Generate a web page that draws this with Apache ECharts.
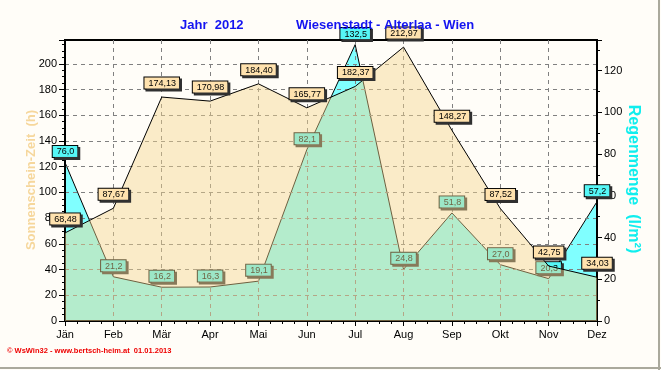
<!DOCTYPE html>
<html><head><meta charset="utf-8">
<script src="https://cdn.jsdelivr.net/npm/echarts@6/dist/echarts.min.js"></script>
<style>html,body{margin:0;padding:0;background:#fffdf8;}#c{width:661px;height:370px;}</style>
</head><body><div id="c"></div>
<script>
// ---- data ----
const months = ["Jän","Feb","Mär","Apr","Mai","Jun","Jul","Aug","Sep","Okt","Nov","Dez"];
const sunHours = [68.48, 87.67, 174.13, 170.98, 184.40, 165.77, 182.37, 212.97, 148.27, 87.52, 42.75, 34.03];
const rainMm = [76.0, 21.2, 16.2, 16.3, 19.1, 82.1, 132.5, 24.8, 51.8, 27.0, 20.3, 57.2];
const leftAxisMax = 218.5;
const rightAxisMax = 134.7;
const axisStep = 20;
const titleYear = "Jahr  2012";
const titleSite = "Wiesenstadt - Alterlaa - Wien";
const leftName = "Sonnenschein-Zeit  (h)";
const rightName = "Regenmenge  (l/m²)";
const footer = "© WsWin32 - www.bertsch-heim.at  01.01.2013";

const sunPts = sunHours.map((v, i) => [i, v]);
const rainPts = rainMm.map((v, i) => [i, v]);
const fmt = d => p => p.value[1].toFixed(d).replace('.', ',');

const chart = echarts.init(document.getElementById('c'), null, {renderer: 'canvas'});
const FONT = "'Liberation Sans', Arial, sans-serif";
const NARROW = "'Liberation Sans Narrow', 'Arial Narrow', 'Liberation Sans', sans-serif";

const labelBase = {
  show: true, position: 'top', fontFamily: NARROW, fontSize: 9, color: '#000', opacity: 1,
  borderColor: '#000', borderWidth: 1, padding: [1, 3, 0, 4], lineHeight: 10,
  shadowColor: '#303030', shadowOffsetX: 2, shadowOffsetY: 2, shadowBlur: 0
};

const AXZ = 1.2;
const option = {
  animation: false,
  backgroundColor: '#fffdf8',
  grid: {left: 65, right: 64, top: 40, bottom: 49, show: true, borderColor: '#000', borderWidth: 2, backgroundColor: '#fffdf8'},
  xAxis: [
    {type: 'value', min: 0, max: months.length - 1, interval: 1, z: AXZ, position: 'bottom',
     axisLine: {show: true, onZero: false, lineStyle: {color: '#000', width: 2}},
     axisTick: {show: true, length: 5, lineStyle: {color: '#000'}},
     minorTick: {show: true, splitNumber: 4, length: 3, lineStyle: {color: '#000'}},
     axisLabel: {formatter: v => months[v] || '', margin: 8, fontFamily: FONT, fontSize: 11, color: '#000', showMinLabel: true, showMaxLabel: true},
     splitLine: {show: false}},
    {type: 'value', min: 0, max: months.length - 1, interval: 1, z: 1.1, position: 'top',
     axisLine: {show: false}, axisTick: {show: false}, axisLabel: {show: false},
     splitLine: {show: true, showMinLine: false, showMaxLine: false, lineStyle: {color: '#808080', width: 1, type: [4, 4]}}}
  ],
  yAxis: [
    {type: 'value', min: 0, max: leftAxisMax, interval: axisStep, position: 'left', z: AXZ,
     axisLine: {show: true, onZero: false, lineStyle: {color: '#000', width: 2}},
     axisTick: {show: true, length: 6, lineStyle: {color: '#000'}},
     minorTick: {show: true, splitNumber: 4, length: 3, lineStyle: {color: '#000'}},
     axisLabel: {showMaxLabel: false, margin: 8, fontFamily: FONT, fontSize: 11, color: '#000'},
     splitLine: {show: false}},
    {type: 'value', min: 0, max: rightAxisMax, interval: axisStep, position: 'right', z: AXZ,
     axisLine: {show: true, onZero: false, lineStyle: {color: '#000', width: 2}},
     axisTick: {show: true, length: 5, lineStyle: {color: '#000'}},
     minorTick: {show: true, splitNumber: 2, length: 3, lineStyle: {color: '#000'}},
     axisLabel: {showMaxLabel: false, margin: 7, fontFamily: FONT, fontSize: 11, color: '#000'},
     splitLine: {show: false}},
    {type: 'value', min: 0, max: leftAxisMax, interval: axisStep, position: 'left', z: 1.1,
     axisLine: {show: false}, axisTick: {show: false}, axisLabel: {show: false},
     splitLine: {show: true, showMinLine: false, showMaxLine: false, lineStyle: {color: '#808080', width: 1, type: [4, 4]}}}
  ],
  series: [
    {name: 'Regen', type: 'line', xAxisIndex: 0, yAxisIndex: 1, data: rainPts, z: 1,
     symbol: 'none', silent: true,
     lineStyle: {color: '#000', width: 1},
     areaStyle: {color: '#80ffff', opacity: 1}},
    {name: 'RegenLabel', type: 'scatter', xAxisIndex: 0, yAxisIndex: 1, data: rainPts, z: 1.5,
     symbolSize: 1, silent: true, itemStyle: {color: '#000', opacity: 0},
     label: Object.assign({}, labelBase, {distance: 5, formatter: fmt(1), backgroundColor: '#55f6f6'})},
    {name: 'Sonne', type: 'line', xAxisIndex: 0, yAxisIndex: 0, data: sunPts, z: 3,
     symbol: 'none', silent: true,
     lineStyle: {color: '#000', width: 1},
     areaStyle: {color: 'rgba(244,212,141,0.45)', opacity: 1}},
    {name: 'SonneLabel', type: 'scatter', xAxisIndex: 0, yAxisIndex: 0, data: sunPts, z: 4,
     symbolSize: 1, silent: true, itemStyle: {color: '#000', opacity: 0},
     label: Object.assign({}, labelBase, {distance: 8, formatter: fmt(2), backgroundColor: '#ffe2ae'})}
  ],
  graphic: [
    {type: 'text', x: 180, y: 25, z: 10, style: {text: titleYear, font: 'bold 13px ' + FONT, fill: '#1414f0', verticalAlign: 'middle'}},
    {type: 'text', x: 296, y: 25, z: 10, style: {text: titleSite, font: 'bold 13px ' + FONT, fill: '#1414f0', verticalAlign: 'middle'}},
    {type: 'text', x: 31, y: 180, rotation: Math.PI / 2, z: 10, style: {text: leftName, font: 'bold 13px ' + FONT, fill: '#f6d79c', align: 'center', verticalAlign: 'middle'}},
    {type: 'text', x: 633, y: 179, rotation: -Math.PI / 2, z: 10, style: {text: rightName, font: 'bold 16px ' + FONT, fill: '#10eeee', align: 'center', verticalAlign: 'middle'}},
    {type: 'text', x: 7, y: 351, z: 10, style: {text: footer, font: 'bold 7.5px ' + FONT, fill: '#ee0000', verticalAlign: 'middle'}},
    {type: 'line', z: 10, shape: {x1: 0, y1: 368, x2: 661, y2: 368}, style: {stroke: '#aaa99c', lineWidth: 2}},
    {type: 'line', z: 10, shape: {x1: 659, y1: 0, x2: 659, y2: 370}, style: {stroke: '#aaa99c', lineWidth: 2}}
  ]
};
chart.setOption(option);
</script></body></html>
